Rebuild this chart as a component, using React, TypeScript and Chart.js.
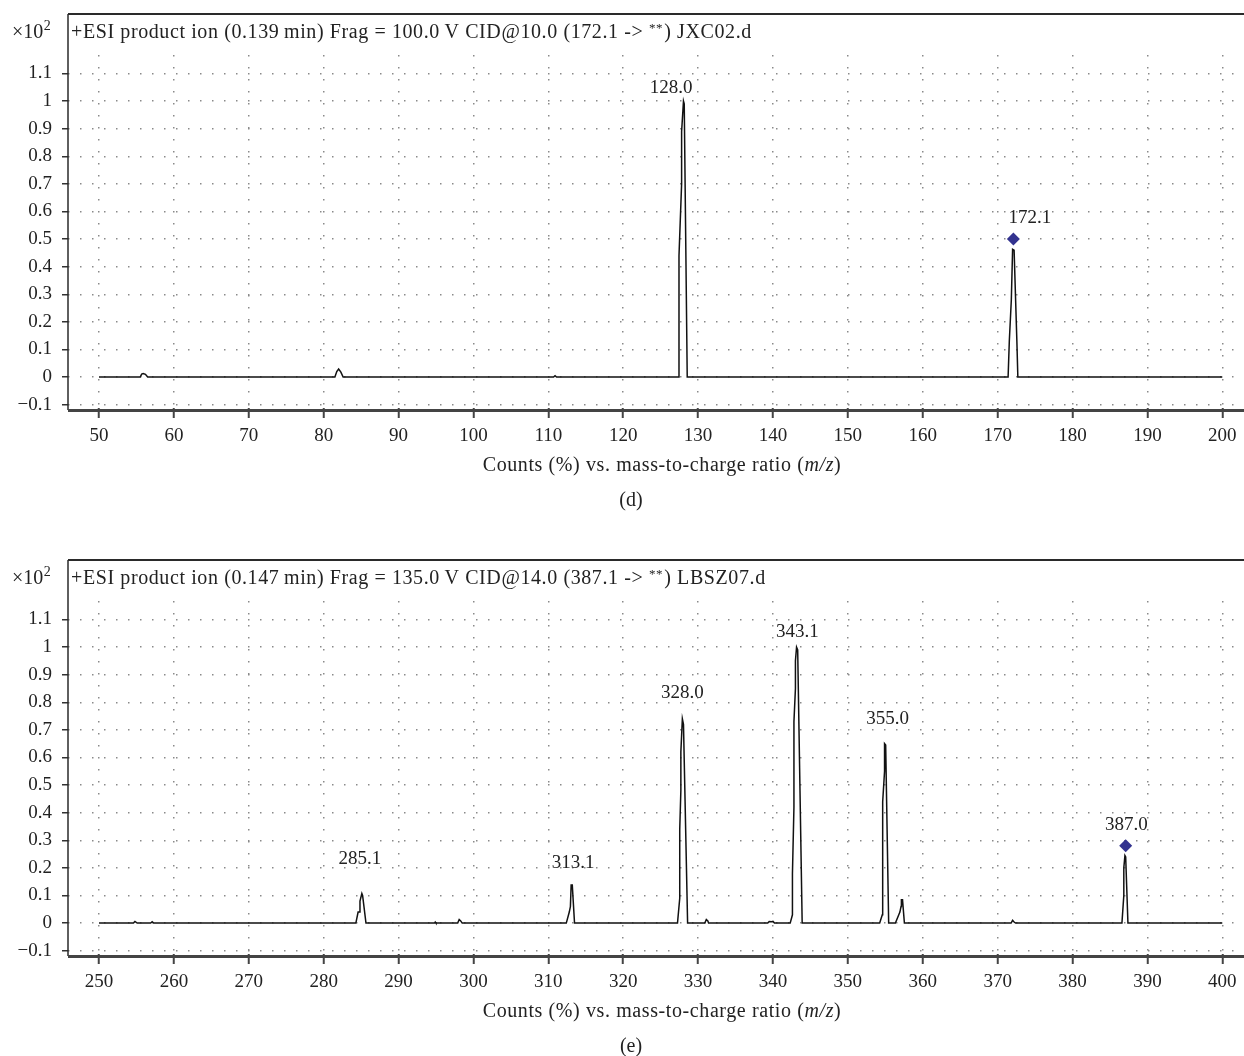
import React, { useEffect, useRef } from "react";
import { Chart, registerables } from "chart.js";
Chart.register(...registerables);

const FONT = '"Liberation Serif", "Times New Roman", serif';

// ---------- Panel (d) ----------
const mzD = [50, 55.5, 55.7, 55.9, 56.2, 56.5, 81.5, 81.75, 82.0, 82.3, 82.6, 110.7, 110.9, 111.1,
  127.35, 127.45, 127.45, 127.8, 127.8, 128.05, 128.15, 128.55,
  171.4, 171.56, 171.83, 172.0, 172.2, 172.57, 172.7, 200];
const intD = [0, 0, 0.011, 0.013, 0.01, 0, 0, 0.02, 0.029, 0.018, 0, 0, 0.005, 0,
  0, 0.13, 0.44, 0.70, 0.89, 1.0, 0.99, 0,
  0, 0.13, 0.28, 0.463, 0.46, 0.13, 0, 0];
const xTicksD = [50, 60, 70, 80, 90, 100, 110, 120, 130, 140, 150, 160, 170, 180, 190, 200];
const peakTextD = ["128.0", "172.1"];
const peakTextXD = [126.4, 174.3];
const peakTextYD = [1.047, 0.576];
const precursorD = [172.1, 0.5];
const headerD = ["+ESI product ion (0.139\u2009min) Frag = 100.0\u2009V CID@10.0 (172.1 -> ", "**", ") JXC02.d"];

// ---------- Panel (e) ----------
const mzE = [250, 254.6, 254.8, 255.1, 256.9, 257.1, 257.3,
  284.3, 284.6, 284.85, 284.85, 285.1, 285.2, 285.65,
  294.8, 294.9, 295.0, 297.9, 298.1, 298.3, 298.5,
  312.4, 312.8, 312.95, 313.05, 313.2, 313.5,
  327.25, 327.55, 327.55, 327.7, 327.7, 327.9, 328.05, 328.6,
  330.9, 331.1, 331.3, 331.4, 339.3, 339.5, 339.8, 340.0, 340.2,
  342.3, 342.6, 342.6, 342.8, 342.8, 343.0, 343.0, 343.15, 343.3, 343.9,
  354.25, 354.6, 354.65, 354.9, 354.9, 355.05, 355.45,
  356.35, 356.8, 356.95, 357.1, 357.15, 357.3, 357.55,
  371.8, 372.0, 372.2, 372.4,
  386.6, 386.85, 386.85, 387.0, 387.1, 387.4, 400];
const intE = [0, 0, 0.006, 0, 0, 0.005, 0,
  0, 0.04, 0.04, 0.08, 0.107, 0.10, 0,
  0, 0.004, 0, 0, 0.013, 0.008, 0,
  0, 0.04, 0.06, 0.138, 0.138, 0,
  0, 0.09, 0.34, 0.48, 0.62, 0.74, 0.72, 0,
  0, 0.013, 0.008, 0, 0, 0.006, 0.005, 0.006, 0,
  0, 0.03, 0.18, 0.42, 0.73, 0.85, 0.95, 1.0, 0.99, 0,
  0, 0.03, 0.44, 0.55, 0.65, 0.645, 0,
  0, 0.03, 0.04, 0.06, 0.085, 0.085, 0,
  0, 0.01, 0.004, 0,
  0, 0.1, 0.2, 0.245, 0.24, 0, 0];
const xTicksE = [250, 260, 270, 280, 290, 300, 310, 320, 330, 340, 350, 360, 370, 380, 390, 400];
const peakTextE = ["285.1", "313.1", "328.0", "343.1", "355.0", "387.0"];
const peakTextXE = [284.85, 313.3, 327.9, 343.25, 355.3, 387.2];
const peakTextYE = [0.233, 0.216, 0.834, 1.053, 0.741, 0.356];
const precursorE = [387.1, 0.28];
const headerE = ["+ESI product ion (0.147\u2009min) Frag = 135.0\u2009V CID@14.0 (387.1 -> ", "**", ") LBSZ07.d"];

const yTicks = [-0.1, 0, 0.1, 0.2, 0.3, 0.4, 0.5, 0.6, 0.7, 0.8, 0.9, 1.0, 1.1];
const xTitle = ["Counts (%) vs. mass-to-charge ratio (", "m/z", ")"];

type Panel = {
  mz: number[]; inten: number[]; xTicks: number[]; xMin: number; xMax: number;
  texts: string[]; tx: number[]; ty: number[]; prec: number[]; header: string[]; tag: string; height: number;
};

const panels: Panel[] = [
  { mz: mzD, inten: intD, xTicks: xTicksD, xMin: 45.86, xMax: 202.9, texts: peakTextD, tx: peakTextXD, ty: peakTextYD, prec: precursorD, header: headerD, tag: "(d)", height: 546 },
  { mz: mzE, inten: intE, xTicks: xTicksE, xMin: 245.86, xMax: 402.9, texts: peakTextE, tx: peakTextXE, ty: peakTextYE, prec: precursorE, header: headerE, tag: "(e)", height: 510 },
];

const AREA_TOP = 55;
const AREA_BOTTOM = 408;
const AREA_LEFT = 68;
const FS = 19;
const TS = 20; // header / title size
const LS = "0.6px";

function fmtY(v: number) {
  const r = Math.round(v * 10) / 10;
  if (r === 0) return "0";
  if (r === 1) return "1";
  if (r < 0) return "\u2212" + Math.abs(r).toFixed(1);
  return r.toFixed(1);
}

function makeDecor(p: Panel) {
  return {
    id: "decor",
    afterDraw(chart: any) {
      const ctx: any = chart.ctx;
      const xs = chart.scales.x;
      const ys = chart.scales.y;
      const W = chart.width;
      ctx.save();
      // frame
      ctx.strokeStyle = "#2a2a2a";
      ctx.lineWidth = 2;
      ctx.beginPath();
      ctx.moveTo(AREA_LEFT, 14);
      ctx.lineTo(W, 14);
      ctx.stroke();
      ctx.lineWidth = 1.5;
      ctx.beginPath();
      ctx.moveTo(AREA_LEFT, 14);
      ctx.lineTo(AREA_LEFT, AREA_BOTTOM + 2);
      ctx.stroke();
      ctx.strokeStyle = "#444";
      ctx.lineWidth = 3;
      ctx.beginPath();
      ctx.moveTo(AREA_LEFT, AREA_BOTTOM + 2.5);
      ctx.lineTo(W, AREA_BOTTOM + 2.5);
      ctx.stroke();

      ctx.fillStyle = "#222";
      ctx.textBaseline = "alphabetic";
      // x10^2
      ctx.font = `${TS}px ${FONT}`;
      ctx.textAlign = "left";
      ctx.fillText("\u00d710", 12, 38);
      const w10 = ctx.measureText("\u00d710").width;
      ctx.font = `14px ${FONT}`;
      ctx.fillText("2", 12 + w10 + 0.5, 30);
      // header
      ctx.letterSpacing = LS;
      let hx = 71;
      ctx.font = `${TS}px ${FONT}`;
      ctx.fillText(p.header[0], hx, 38);
      hx += ctx.measureText(p.header[0]).width;
      ctx.font = `13px ${FONT}`;
      ctx.fillText(p.header[1], hx, 32);
      hx += ctx.measureText(p.header[1]).width + 1;
      ctx.font = `${TS}px ${FONT}`;
      ctx.fillText(p.header[2], hx, 38);
      ctx.letterSpacing = "0px";

      // peak labels
      ctx.textAlign = "center";
      ctx.textBaseline = "middle";
      ctx.font = `${FS}px ${FONT}`;
      for (let i = 0; i < p.texts.length; i++) {
        ctx.fillText(p.texts[i], xs.getPixelForValue(p.tx[i]), ys.getPixelForValue(p.ty[i]));
      }
      // precursor diamond
      const dx = xs.getPixelForValue(p.prec[0]);
      const dy = ys.getPixelForValue(p.prec[1]);
      ctx.fillStyle = "#33338f";
      ctx.beginPath();
      ctx.moveTo(dx, dy - 6.5);
      ctx.lineTo(dx + 6.5, dy);
      ctx.lineTo(dx, dy + 6.5);
      ctx.lineTo(dx - 6.5, dy);
      ctx.closePath();
      ctx.fill();

      // x title
      ctx.fillStyle = "#222";
      ctx.textBaseline = "alphabetic";
      ctx.textAlign = "left";
      ctx.letterSpacing = LS;
      ctx.font = `${TS}px ${FONT}`;
      const w0 = ctx.measureText(xTitle[0]).width;
      const w2 = ctx.measureText(xTitle[2]).width;
      ctx.font = `italic ${TS}px ${FONT}`;
      const w1 = ctx.measureText(xTitle[1]).width;
      let tx = 662 - (w0 + w1 + w2) / 2;
      ctx.font = `${TS}px ${FONT}`;
      ctx.fillText(xTitle[0], tx, 471);
      tx += w0;
      ctx.font = `italic ${TS}px ${FONT}`;
      ctx.fillText(xTitle[1], tx, 471);
      tx += w1;
      ctx.font = `${TS}px ${FONT}`;
      ctx.fillText(xTitle[2], tx, 471);
      ctx.letterSpacing = "0px";
      ctx.textAlign = "center";
      ctx.fillText(p.tag, 631, 506);
      ctx.restore();
    },
  };
}

function PanelChart({ p, top }: { p: Panel; top: number }) {
  const ref = useRef<HTMLCanvasElement | null>(null);
  useEffect(() => {
    if (!ref.current) return;
    const chart = new Chart(ref.current, {
      type: "line",
      data: {
        datasets: [{
          data: p.mz.map((x, i) => ({ x, y: p.inten[i] })),
          borderColor: "#111",
          borderWidth: 1.5,
          pointRadius: 0,
          tension: 0,
          fill: false,
        }],
      },
      options: {
        responsive: false,
        maintainAspectRatio: false,
        animation: false,
        events: [],
        layout: { padding: { left: 0, right: 0, top: AREA_TOP, bottom: 0 } },
        plugins: { legend: { display: false }, tooltip: { enabled: false } },
        scales: {
          x: {
            type: "linear",
            min: p.xMin,
            max: p.xMax,
            afterBuildTicks: (s: any) => { s.ticks = p.xTicks.map((v) => ({ value: v })); },
            afterFit: (s: any) => { s.height = p.height - AREA_BOTTOM; },
            grid: { color: "#8a8a8a", lineWidth: 1.5, tickLength: 10, tickColor: "#444", tickWidth: 2, tickBorderDash: [] },
            border: { display: false, dash: [1.5, 10.5] },
            ticks: { font: { family: FONT, size: FS }, color: "#222", padding: 7, maxRotation: 0, autoSkip: false, callback: (v: any) => String(v) },
          },
          y: {
            type: "linear",
            min: -0.112,
            max: 1.167,
            afterBuildTicks: (s: any) => { s.ticks = yTicks.map((v) => ({ value: v })); },
            afterFit: (s: any) => { s.width = AREA_LEFT; },
            grid: { color: "#8a8a8a", lineWidth: 1.5, tickLength: 6, tickColor: "#333", tickWidth: 1.5, tickBorderDash: [] },
            border: { display: false, dash: [1.5, 10.5] },
            ticks: { font: { family: FONT, size: FS }, color: "#222", padding: 10, autoSkip: false, callback: (v: any) => fmtY(Number(v)) },
          },
        },
      },
      plugins: [makeDecor(p)],
    } as any);
    return () => chart.destroy();
  }, [p]);
  return (
    <canvas ref={ref} width={1244} height={p.height}
      style={{ position: "absolute", left: 0, top, width: 1244, height: p.height, display: "block" }} />
  );
}

export default function App() {
  return (
    <div style={{ position: "absolute", left: 0, top: 0, width: 1244, height: 1056, background: "#fff" }}>
      <PanelChart p={panels[0]} top={0} />
      <PanelChart p={panels[1]} top={546} />
    </div>
  );
}
